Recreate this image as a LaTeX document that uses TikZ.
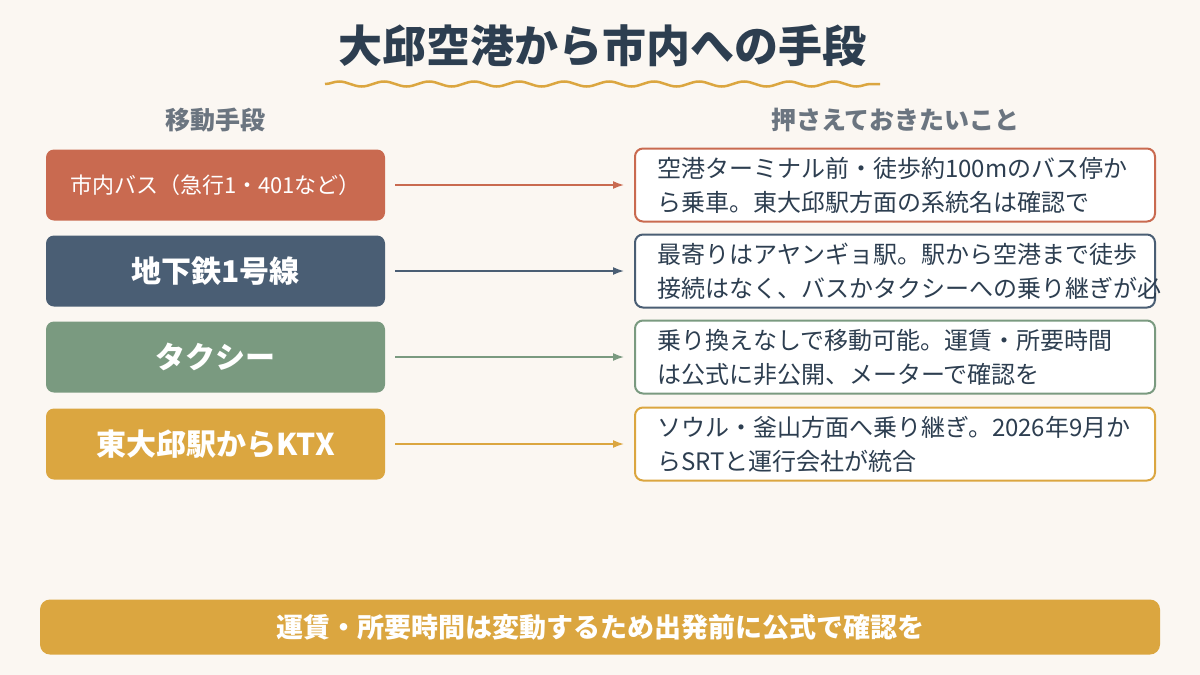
\documentclass[tikz,border=0pt]{standalone}
\usepackage{fontspec}
\setmainfont{Noto Sans CJK JP}
\usetikzlibrary{decorations.pathmorphing,arrows.meta}
\definecolor{bg}{HTML}{FBF7F2}
\definecolor{ink}{HTML}{2D3E50}
\definecolor{gry}{HTML}{6B7580}
\definecolor{cbus}{HTML}{C96A50}
\definecolor{csub}{HTML}{4A5E74}
\definecolor{ctax}{HTML}{7A9A80}
\definecolor{cktx}{HTML}{DBA640}
\tikzset{
  mode/.style={rounded corners=8pt, minimum width=339pt, minimum height=71pt, text=white, font=\fontsize{30}{36}\selectfont\bfseries, inner sep=0pt},
  note/.style={rounded corners=8pt, draw=#1, line width=2pt, fill=white, minimum width=520pt, minimum height=73pt, inner sep=0pt},
  notetext/.style={anchor=west, align=left, text=ink, font=\fontsize{24}{34}\selectfont, inner sep=0pt},
  link/.style={-{Latex[length=11pt,width=8pt]}, line width=1.6pt, draw=#1},
}
\begin{document}
\begin{tikzpicture}[x=1pt, y=-1pt]
      \fill[bg] (0, 0) rectangle (1200, 675);
      \node[text=ink, font=\fontsize{44}{50}\selectfont\bfseries] (title) at (602, 46) {大邱空港から市内への手段};
      \draw[cktx, line width=2.5pt, decorate, decoration={snake, amplitude=2.5pt, segment length=45pt}] (325, 84) -- (880, 84);
      \node[text=gry, font=\fontsize{25}{30}\selectfont\bfseries] (h1) at (215, 120) {移動手段};
      \node[text=gry, font=\fontsize{25}{30}\selectfont\bfseries] (h2) at (895, 120) {押さえておきたいこと};
        \node[mode, fill=cbus, font=\fontsize{22}{26}\selectfont] (m1) at (215.5, 185) {市内バス（急行1・401など）};
        \node[mode, fill=csub] (m2) at (215.5, 271) {地下鉄1号線};
        \node[mode, fill=ctax] (m3) at (215.5, 357) {タクシー};
        \node[mode, fill=cktx] (m4) at (215.5, 444) {東大邱駅からKTX};
        \node[note=cbus] (n1) at (895, 185) {};
        \node[note=csub] (n2) at (895, 271) {};
        \node[note=ctax] (n3) at (895, 357) {};
        \node[note=cktx] (n4) at (895, 444) {};
        \node[notetext] (t1) at (657, 185) {空港ターミナル前・徒歩約100mのバス停か\\ら乗車。東大邱駅方面の系統名は確認で};
        \node[notetext] (t2) at (657, 271) {最寄りはアヤンギョ駅。駅から空港まで徒歩\\接続はなく、バスかタクシーへの乗り継ぎが必};
        \node[notetext] (t3) at (657, 357) {乗り換えなしで移動可能。運賃・所要時間\\は公式に非公開、メーターで確認を};
        \node[notetext] (t4) at (657, 444) {ソウル・釜山方面へ乗り継ぎ。2026年9月か\\らSRTと運行会社が統合};
      \draw[link=cbus] ([xshift=10pt]m1.east) -- ([xshift=-10pt]n1.west);
      \draw[link=csub] ([xshift=10pt]m2.east) -- ([xshift=-10pt]n2.west);
      \draw[link=ctax] ([xshift=10pt]m3.east) -- ([xshift=-10pt]n3.west);
      \draw[link=cktx] ([xshift=10pt]m4.east) -- ([xshift=-10pt]n4.west);
      \node[fill=cktx, rounded corners=10pt, minimum width=1120pt, minimum height=55pt, text=white, font=\fontsize{27}{32}\selectfont\bfseries] (foot) at (600, 627) {運賃・所要時間は変動するため出発前に公式で確認を};
\end{tikzpicture}
\end{document}
